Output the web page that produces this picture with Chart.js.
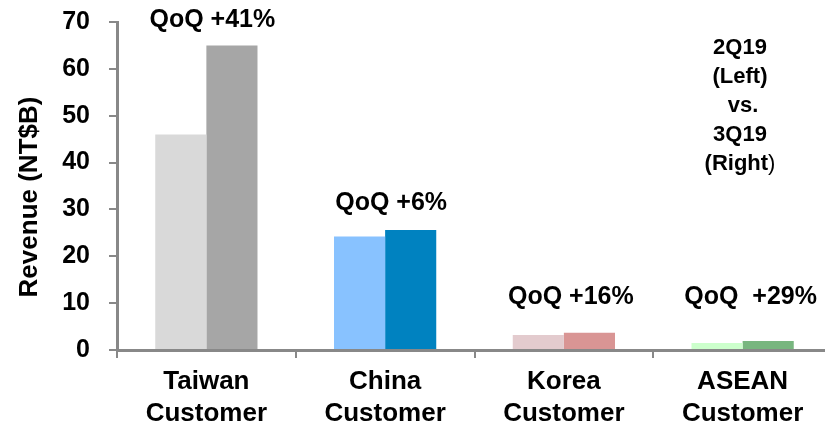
<!DOCTYPE html>
<html>
<head>
<meta charset="utf-8">
<script src="https://cdn.jsdelivr.net/npm/chart.js@4"></script>
<style>
  html, body { margin: 0; padding: 0; background: #fff; overflow: hidden; }
  #wrap { width: 832px; height: 428px; }
</style>
</head>
<body>
<div id="wrap"><canvas id="revenueChart" width="832" height="428"></canvas></div>
<script>
// Revenue by customer region, 2Q19 vs 3Q19 (NT$B)
const categories = [["Taiwan", "Customer"], ["China", "Customer"], ["Korea", "Customer"], ["ASEAN", "Customer"]];
const revenue2Q19 = [46, 24.2, 3.2, 1.5];
const revenue3Q19 = [65, 25.6, 3.7, 1.9];
const qoqLabels = ["QoQ +41%", "QoQ +6%", "QoQ +16%", "QoQ  +29%"];
const yTicks = [0, 10, 20, 30, 40, 50, 60, 70];
const sideNote = ["2Q19", "(Left)", " vs.", "3Q19", "(Right"];

const colors2Q19 = ["#d9d9d9", "#88c2ff", "#e3cbce", "#ccffcc"];
const colors3Q19 = ["#a6a6a6", "#0082c0", "#d99594", "#78b67f"];

const FONT = "'Liberation Sans', Arial, Helvetica, sans-serif";
const axisGrey = "#888888";

// where the QoQ labels sit: category index offset and y value
const qoqAnchors = [
  { dx: 6, y: 70.3 },
  { dx: 6, y: 31.4 },
  { dx: 7, y: 11.3 },
  { dx: 8, y: 11.3 }
];

const textPlugin = {
  id: "textPlugin",
  afterDraw(chart) {
    const { ctx, scales } = chart;
    const x = scales.x;
    const y = scales.y;
    ctx.save();
    ctx.fillStyle = "#000";
    ctx.textAlign = "center";
    ctx.textBaseline = "middle";

    // QoQ labels above each pair
    ctx.font = "bold 25px " + FONT;
    qoqLabels.forEach((label, i) => {
      const a = qoqAnchors[i];
      ctx.fillText(label, x.getPixelForValue(i) + a.dx, y.getPixelForValue(a.y));
    });

    // 2Q19 (Left) vs. 3Q19 (Right) -- last ")" is not bold in the original
    ctx.font = "bold 22px " + FONT;
    sideNote.forEach((line, i) => {
      const ly = 48 + i * 29;
      if (i === sideNote.length - 1) {
        const boldW = ctx.measureText(line).width;
        ctx.font = "22px " + FONT;
        const parenW = ctx.measureText(")").width;
        const startX = 740 - (boldW + parenW) / 2;
        ctx.textAlign = "left";
        ctx.fillText(")", startX + boldW, ly);
        ctx.font = "bold 22px " + FONT;
        ctx.fillText(line, startX, ly);
        ctx.textAlign = "center";
      } else {
        ctx.fillText(line, 740, ly);
      }
    });

    // y axis title
    ctx.font = "bold 26px " + FONT;
    ctx.translate(30, 197);
    ctx.rotate(-Math.PI / 2);
    ctx.fillText("Revenue (NT$B)", 0, 0);
    ctx.restore();
  }
};

const ctx = document.getElementById("revenueChart").getContext("2d");

new Chart(ctx, {
  type: "bar",
  data: {
    labels: categories,
    datasets: [
      {
        label: "2Q19",
        data: revenue2Q19,
        backgroundColor: colors2Q19,
        borderWidth: 0,
        barPercentage: 1,
        categoryPercentage: 0.572
      },
      {
        label: "3Q19",
        data: revenue3Q19,
        backgroundColor: colors3Q19,
        borderWidth: 0,
        barPercentage: 1,
        categoryPercentage: 0.572
      }
    ]
  },
  options: {
    responsive: false,
    animation: false,
    devicePixelRatio: 1,
    layout: {
      padding: { top: 22, right: 0, left: 0, bottom: 0 }
    },
    plugins: {
      legend: { display: false },
      tooltip: { enabled: false },
      title: { display: false }
    },
    scales: {
      x: {
        offset: true,
        grid: {
          offset: true,
          drawOnChartArea: false,
          drawTicks: true,
          tickLength: 8,
          color: axisGrey,
          lineWidth: 2
        },
        border: { color: axisGrey, width: 3 },
        ticks: {
          color: "#000",
          padding: 8,
          font: { family: FONT, size: 26, weight: "bold", lineHeight: 1.22 }
        },
        afterFit(scale) {
          scale.height = 78;
          scale.paddingLeft = 0;
          scale.paddingRight = 0;
        }
      },
      y: {
        min: 0,
        max: 70,
        afterBuildTicks(scale) {
          scale.ticks = yTicks.map(v => ({ value: v }));
        },
        grid: {
          drawOnChartArea: false,
          drawTicks: true,
          tickLength: 8,
          color: axisGrey,
          lineWidth: 2
        },
        border: { color: axisGrey, width: 3 },
        ticks: {
          color: "#000",
          padding: 19,
          font: { family: FONT, size: 25, weight: "bold" }
        },
        afterFit(scale) {
          scale.width = 117;
          scale.paddingTop = 0;
          scale.paddingBottom = 0;
        }
      }
    }
  },
  plugins: [textPlugin]
});
</script>
</body>
</html>
